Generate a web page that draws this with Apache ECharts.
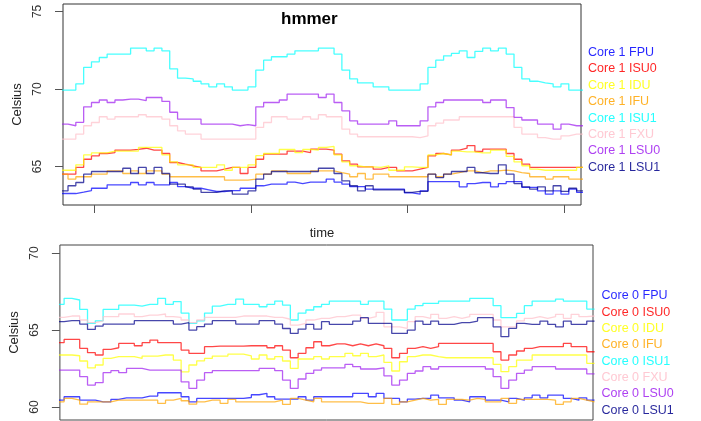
<!DOCTYPE html>
<html>
<head>
<meta charset="utf-8">
<script src="https://cdn.jsdelivr.net/npm/echarts@6/dist/echarts.min.js"></script>
<style>
  html, body { margin: 0; padding: 0; background: #fff; }
  #chart { width: 701px; height: 421px; }
</style>
</head>
<body>
<div id="chart"></div>
<script>
// unit names, in legend order, and their colours
const units = ['FPU', 'ISU0', 'IDU', 'IFU', 'ISU1', 'FXU', 'LSU0', 'LSU1']
const unitColors = ['#0000ff', '#ff0000', '#ffff00', '#ffa500', '#00ffff', '#ffc0cb', '#a020f0', '#00008b']

// Core 1 (upper panel), one reading per time step starting at t = 15.6
const topStart = 15.6
const topFPU = [63.26, 63.26, 63.35, 63.45, 63.6, 63.6, 63.82, 63.82, 63.82, 63.97, 63.82, 63.97, 63.82, 63.82, 63.97, 63.7, 63.6, 63.6, 63.5, 63.39, 63.39, 63.45, 63.45, 63.6, 63.6,
  63.76, 63.86, 63.86, 63.86, 64.0, 63.9, 64.0, 64.0, 64.0, 64.19, 64.0, 63.86, 63.7, 63.7, 63.54, 63.54, 63.54, 63.54, 63.54, 63.3,
  63.22, 63.43, 64.03, 64.03, 64.03, 64.03, 63.69, 63.9, 63.97, 63.97, 63.69, 63.9, 64.03, 64.03, 63.65, 63.65, 63.43, 63.22, 63.43, 63.22, 63.54, 63.33]
const topISU0 = [64.51, 64.51, 64.94, 65.47, 65.69, 65.84, 65.9, 66.06, 66.06, 66.1, 66.18, 66.06, 66.06, 65.84, 65.26, 65.15, 65.05, 64.94, 64.72, 64.72, 64.83, 64.94, 64.94,
  64.55, 64.94, 65.47, 65.8, 65.8, 65.8, 66.0, 66.0, 65.9, 66.12, 66.12, 66.06, 65.8, 65.37, 65.15, 64.98, 64.98, 64.83, 64.94, 64.94, 64.72, 64.72,
  64.83, 64.94, 65.69, 65.84, 65.75, 66.06, 66.18, 66.35, 65.97, 66.12, 66.12, 66.12, 65.84, 65.47, 65.15, 64.94, 64.94, 64.94, 64.94, 64.94, 64.94, 64.94]
const topIDU = [64.76, 64.76, 65.11, 65.75, 65.88, 65.88, 66.0, 66.0, 66.0, 66.0, 66.23, 66.23, 66.23, 65.75, 65.3, 65.11, 65.11, 64.94, 64.94, 64.94, 65.11, 64.76, 64.94, 64.94,
  65.11, 65.7, 65.84, 65.84, 66.1, 66.1, 65.9, 66.1, 66.06, 66.23, 66.3, 65.75, 65.3, 65.05, 64.98, 64.98, 64.94, 65.05, 64.76, 64.76, 64.98,
  64.94, 64.94, 65.75, 65.84, 65.75, 66.0, 65.95, 65.95, 65.88, 65.88, 66.06, 66.06, 65.65, 65.3, 65.05, 64.83, 64.76, 64.76, 64.76, 64.76, 64.76, 64.94]
const topIFU = [64.51, 64.19, 64.34, 64.34, 64.51, 64.51, 64.72, 64.72, 64.55, 64.72, 64.55, 64.72, 64.72, 64.51, 64.34, 64.34, 64.34, 64.34, 64.34, 64.34, 64.34, 64.12, 64.12, 64.12,
  64.19, 64.51, 64.51, 64.72, 64.72, 64.55, 64.55, 64.55, 64.72, 64.72, 64.72, 64.61, 64.51, 64.34, 64.55, 64.19, 64.51, 64.51, 64.34, 64.34, 64.34,
  64.34, 64.34, 64.51, 64.34, 64.51, 64.61, 64.72, 64.72, 64.61, 64.72, 64.72, 64.77, 64.72, 64.61, 64.55, 64.34, 64.34, 64.19, 64.34, 64.34, 64.19, 64.19]
const topISU1 = [69.93, 69.93, 70.33, 71.4, 71.75, 72.03, 72.25, 72.25, 72.25, 72.64, 72.64, 72.46, 72.64, 72.46, 71.3, 70.7, 70.65, 70.5, 70.33, 70.14, 70.33, 70.14, 69.93,
  69.93, 70.14, 71.22, 71.86, 72.08, 72.08, 72.25, 72.46, 72.46, 72.46, 72.64, 72.64, 72.25, 71.22, 70.65, 70.39, 70.39, 70.14, 70.14, 69.93, 69.93, 69.93,
  69.93, 70.33, 71.39, 71.86, 72.14, 72.29, 72.46, 72.03, 72.42, 72.64, 72.46, 72.64, 72.25, 71.39, 70.65, 70.5, 70.39, 70.33, 70.14, 70.33, 69.93, 69.93]
const topFXU = [66.77, 66.77, 67.09, 67.63, 67.84, 68.21, 68.06, 68.21, 68.21, 68.21, 68.34, 68.21, 68.21, 68.06, 67.63, 67.3, 67.09, 67.09, 66.77, 66.77, 66.77, 66.77, 66.77, 66.77, 66.77,
  67.52, 67.84, 68.21, 68.21, 68.06, 68.06, 68.21, 68.06, 68.34, 68.21, 68.21, 67.41, 67.09, 66.92, 66.92, 66.92, 66.92, 66.92, 66.92, 66.92,
  66.87, 66.98, 67.63, 67.8, 68.0, 68.0, 68.21, 68.21, 68.21, 68.21, 68.21, 68.21, 68.21, 67.52, 67.09, 67.09, 66.87, 66.77, 66.77, 66.98, 67.09, 67.09]
const topLSU0 = [67.74, 67.63, 67.85, 68.85, 69.13, 69.29, 69.13, 69.29, 69.35, 69.35, 69.25, 69.45, 69.45, 69.2, 68.5, 68.06, 68.06, 68.06, 67.74, 67.74, 67.74, 67.74, 67.63,
  67.7, 67.63, 68.85, 69.13, 69.13, 69.29, 69.67, 69.67, 69.67, 69.67, 69.45, 69.67, 69.13, 68.59, 67.95, 67.74, 67.74, 67.74, 67.74, 67.95, 67.63, 67.63,
  67.63, 67.95, 68.85, 69.13, 69.29, 69.29, 69.29, 69.29, 69.29, 69.13, 69.29, 69.29, 68.8, 68.17, 68.0, 68.0, 67.74, 67.74, 67.41, 67.74, 67.63, 67.63]
const topLSU1 = [63.43, 63.76, 63.97, 64.51, 64.68, 64.68, 64.68, 64.68, 64.89, 64.55, 64.94, 64.55, 64.94, 64.55, 63.86, 63.86, 63.69, 63.54, 63.33, 63.33, 63.43, 63.43, 63.22,
  63.22, 63.43, 64.19, 64.51, 64.68, 64.68, 64.68, 64.68, 64.68, 64.68, 64.89, 64.89, 64.55, 64.08, 63.76, 63.43, 63.76, 63.5, 63.5, 63.5, 63.5, 63.33,
  63.4, 63.4, 64.51, 64.29, 64.51, 64.68, 64.68, 64.94, 64.6, 64.55, 64.55, 65.11, 64.51, 63.9, 63.69, 63.54, 63.69, 63.43, 63.76, 63.4, 63.6, 63.43]

// Core 0 (lower panel), one reading per time step starting at t = 15
const botStart = 15
const botFPU = [60.45, 60.67, 60.67, 60.45, 60.45, 60.34, 60.34, 60.5, 60.6, 60.6, 60.6, 60.71, 60.71, 60.93, 60.93, 60.93, 60.67, 60.34, 60.56, 60.56, 60.56, 60.56, 60.56,
  60.56, 60.62, 60.8, 60.89, 60.67, 60.52, 60.52, 60.52, 60.67, 60.45, 60.67, 60.67, 60.67, 60.67, 60.67, 60.89, 60.89, 60.67, 60.89, 60.56, 60.56, 60.34, 60.52,
  60.56, 60.56, 60.78, 60.6, 60.6, 60.45, 60.34, 60.67, 60.67, 60.45, 60.45, 60.34, 60.56, 60.45, 60.6, 60.78, 60.6, 60.78, 60.78, 60.56, 60.45, 60.6, 60.45]
const botISU0 = [64.18, 64.39, 64.39, 63.81, 63.53, 63.38, 63.75, 63.85, 64.13, 64.13, 63.98, 64.18, 64.35, 64.18, 64.18, 64.18, 63.7, 63.49, 63.49, 63.92, 63.96, 63.96, 63.96,
  63.96, 63.98, 63.98, 63.98, 63.85, 63.98, 63.7, 63.2, 63.49, 63.85, 64.24, 63.98, 64.1, 64.1, 63.98, 64.1, 63.98, 64.1, 63.98, 63.81, 63.2, 63.49, 63.81,
  63.92, 63.81, 63.92, 64.13, 64.13, 64.13, 64.13, 64.13, 64.13, 64.13, 63.59, 63.05, 63.38, 63.64, 63.81, 63.92, 63.92, 63.92, 63.92, 64.13, 63.92, 63.92, 63.59]
const botIDU = [63.38, 63.38, 63.33, 62.99, 62.55, 62.73, 63.16, 63.27, 63.27, 63.27, 63.16, 63.31, 63.31, 63.38, 63.38, 63.05, 62.29, 62.73, 63.0, 63.16, 63.31, 63.31, 63.44,
  63.44, 63.33, 63.12, 63.38, 63.12, 63.27, 62.99, 62.51, 63.12, 63.12, 63.27, 63.12, 63.27, 63.27, 63.49, 63.33, 63.49, 63.27, 63.38, 62.9, 62.34, 62.94, 63.27,
  63.38, 63.38, 63.27, 63.2, 63.2, 63.2, 63.2, 63.2, 63.2, 63.2, 62.77, 62.3, 62.62, 63.05, 63.05, 63.38, 63.38, 63.38, 63.38, 63.38, 63.38, 63.38, 62.84]
const botIFU = [60.34, 60.56, 60.45, 60.19, 60.34, 60.34, 60.34, 60.45, 60.45, 60.45, 60.45, 60.45, 60.45, 60.24, 60.45, 60.56, 60.41, 60.19, 60.34, 60.45, 60.45, 60.24, 60.5,
  60.34, 60.34, 60.34, 60.34, 60.34, 60.45, 60.17, 60.56, 60.45, 60.34, 60.56, 60.34, 60.34, 60.34, 60.34, 60.34, 60.24, 60.24, 60.24, 60.56, 60.17, 60.34, 60.45,
  60.56, 60.45, 60.5, 60.17, 60.5, 60.5, 60.45, 60.56, 60.5, 60.34, 60.34, 60.56, 60.24, 60.5, 60.5, 60.5, 60.5, 60.45, 60.17, 60.34, 60.56, 60.45, 60.34]
const botISU1 = [66.67, 67.06, 66.95, 66.34, 65.43, 65.6, 66.34, 66.34, 66.62, 66.62, 66.55, 66.67, 66.67, 67.06, 66.67, 66.85, 66.1, 65.43, 65.6, 66.1, 66.55, 66.67, 66.67,
  67.01, 66.67, 66.67, 66.51, 66.67, 66.88, 66.62, 65.65, 66.1, 66.3, 66.51, 66.67, 66.88, 66.88, 66.88, 66.88, 66.67, 66.88, 66.88, 66.36, 65.65, 65.65, 66.36,
  66.58, 66.73, 66.73, 66.88, 66.88, 66.88, 66.88, 67.06, 67.06, 67.06, 66.58, 65.8, 65.8, 66.08, 66.58, 66.88, 66.88, 66.88, 67.01, 66.88, 66.88, 66.88, 66.36]
const botFXU = [65.82, 65.91, 65.91, 65.65, 65.48, 65.6, 65.87, 65.87, 66.04, 66.04, 65.87, 65.97, 65.97, 66.04, 65.87, 65.82, 65.65, 65.48, 65.65, 65.82, 65.82, 65.82, 65.82,
  65.91, 65.91, 65.91, 65.91, 65.82, 65.82, 65.7, 65.32, 65.43, 65.65, 65.76, 65.76, 65.87, 65.87, 65.97, 65.97, 65.76, 65.87, 66.15, 65.21, 65.21, 65.11, 65.54,
  65.87, 65.76, 66.02, 65.76, 65.87, 65.76, 65.87, 66.02, 66.02, 66.02, 65.65, 65.21, 65.21, 65.6, 65.76, 65.87, 65.76, 65.87, 66.02, 65.76, 66.02, 65.87, 65.91]
const botLSU0 = [62.4, 62.4, 62.4, 61.97, 61.43, 61.58, 62.23, 62.36, 62.23, 62.51, 62.51, 62.4, 62.4, 62.4, 62.4, 62.4, 61.64, 61.21, 61.75, 62.23, 62.36, 62.36, 62.36,
  62.36, 62.36, 62.36, 62.51, 62.51, 62.36, 61.75, 61.21, 61.82, 62.19, 62.4, 62.55, 62.55, 62.55, 62.77, 62.62, 62.47, 62.47, 62.55, 62.03, 61.43, 61.75, 62.19,
  62.34, 62.62, 62.47, 62.62, 62.62, 62.62, 62.62, 62.62, 62.62, 62.47, 61.97, 61.21, 61.75, 62.19, 62.4, 62.62, 62.62, 62.62, 62.47, 62.47, 62.47, 62.47, 62.15]
const botLSU1 = [65.54, 65.61, 65.61, 65.39, 65.04, 65.26, 65.39, 65.39, 65.39, 65.39, 65.61, 65.61, 65.61, 65.61, 65.61, 65.39, 65.48, 65.0, 65.22, 65.39, 65.61, 65.61, 65.61,
  65.39, 65.39, 65.39, 65.61, 65.61, 65.39, 65.1, 64.78, 65.06, 65.37, 65.06, 65.54, 65.37, 65.37, 65.37, 65.58, 65.8, 65.43, 65.43, 65.43, 64.78, 64.78, 65.0,
  65.58, 65.37, 65.58, 65.37, 65.37, 65.48, 65.48, 65.58, 65.8, 65.8, 65.21, 64.57, 65.11, 65.43, 65.37, 65.37, 65.58, 65.37, 65.21, 65.58, 65.37, 65.37, 65.58]

// axis ticks
const topYTicks = [65, 70, 75]
const topXTicks = [20, 40, 60, 80]
const botYTicks = [60, 65, 70]

const topData = [topFPU, topISU0, topIDU, topIFU, topISU1, topFXU, topLSU0, topLSU1]
const botData = [botFPU, botISU0, botIDU, botIFU, botISU1, botFXU, botLSU0, botLSU1]

const font = 'Liberation Sans, Arial, sans-serif'

// R type="s": each reading is held until the next one, the last one runs to the edge
function steps(values, start) {
  const pts = values.map((v, i) => [start + i, v])
  pts.push([start + values.length, values[values.length - 1]])
  return pts
}

function makeSeries(core, data, start, idx) {
  return data.map((values, i) => ({
    name: 'Core ' + core + ' ' + units[i],
    type: 'line',
    step: 'end',
    xAxisIndex: idx,
    yAxisIndex: idx,
    showSymbol: false,
    clip: true,
    color: unitColors[i],
    lineStyle: { width: 1.3, color: unitColors[i], opacity: 0.72 },
    data: steps(values, start)
  }))
}

function legendFor(core, top) {
  return {
    orient: 'vertical',
    left: top ? 583 : 596.5,
    top: top ? 46 : 289.5,
    height: 150,
    padding: 0,
    icon: 'none',
    itemWidth: 0,
    itemHeight: 12,
    itemGap: top ? 3.4 : 3.3,
    selectedMode: false,
    textStyle: { fontSize: 12.5, fontFamily: font },
    data: units.map((u, i) => ({ name: 'Core ' + core + ' ' + u, textStyle: { color: unitColors[i], opacity: 0.85 } }))
  }
}

const yAxisBase = (ticks, min, max, idx) => ({
  type: 'value',
  gridIndex: idx,
  min: min,
  max: max,
  name: 'Celsius',
  nameLocation: 'middle',
  nameGap: 36,
  nameTextStyle: { fontSize: 13, color: '#222', fontFamily: font },
  axisLine: { show: false },
  axisTick: { show: true, length: 8, customValues: ticks, lineStyle: { color: '#555' } },
  axisLabel: { customValues: ticks, rotate: 90, fontSize: 12, color: '#333', margin: 19, fontFamily: font },
  splitLine: { show: false }
})

const chart = echarts.init(document.getElementById('chart'), null, { renderer: 'canvas' })
chart.setOption({
  animation: false,
  backgroundColor: '#fff',
  title: {
    text: 'hmmer',
    left: 281,
    top: 11,
    padding: 0,
    textStyle: { fontSize: 17, fontWeight: 'bold', color: '#000', fontFamily: font }
  },
  legend: [legendFor(1, true), legendFor(0, false)],
  grid: [
    { left: 63, top: 4, width: 518, height: 201, show: true, borderColor: '#333', borderWidth: 1, backgroundColor: 'transparent' },
    { left: 59, top: 245, width: 534, height: 175, show: true, borderColor: '#444', borderWidth: 1, backgroundColor: 'transparent' }
  ],
  xAxis: [
    {
      type: 'value',
      gridIndex: 0,
      min: 15.96,
      max: 82.16,
      name: 'time',
      nameLocation: 'middle',
      nameGap: 22,
      nameTextStyle: { fontSize: 13, color: '#222', fontFamily: font },
      axisLine: { show: false },
      axisTick: { show: true, length: 8, customValues: topXTicks, lineStyle: { color: '#555' } },
      axisLabel: { show: false },
      splitLine: { show: false }
    },
    {
      type: 'value',
      gridIndex: 1,
      min: 15.46,
      max: 83.8,
      axisLine: { show: false },
      axisTick: { show: false },
      axisLabel: { show: false },
      splitLine: { show: false }
    }
  ],
  yAxis: [
    yAxisBase(topYTicks, 62.52, 75.48, 0),
    yAxisBase(botYTicks, 59.16, 70.52, 1)
  ],
  series: makeSeries(1, topData, topStart, 0).concat(makeSeries(0, botData, botStart, 1))
})
</script>
</body>
</html>
